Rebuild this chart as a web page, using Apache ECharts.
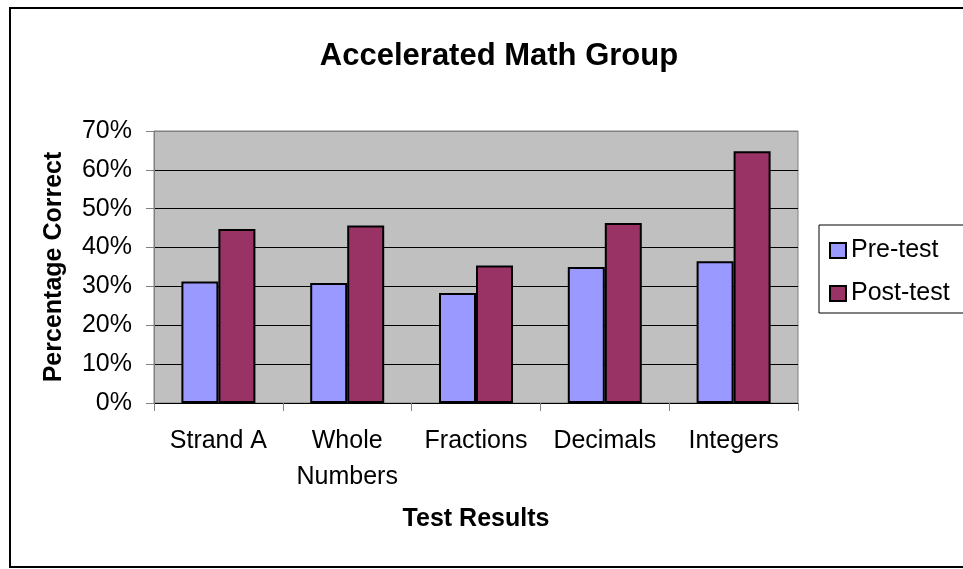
<!DOCTYPE html>
<html>
<head>
<meta charset="utf-8">
<script src="https://cdn.jsdelivr.net/npm/echarts@6/dist/echarts.min.js"></script>
<style>html,body{margin:0;padding:0;background:#fff;}#c{width:963px;height:569px;}</style>
</head>
<body>
<div id="c"></div>
<script>
var categories = ['Strand A', 'Whole\nNumbers', 'Fractions', 'Decimals', 'Integers'];
var preTest = [31.3, 30.9, 28.3, 35.0, 36.5];
var postTest = [44.8, 45.7, 35.4, 46.3, 64.8];
var yTicks = { min: 0, max: 70, interval: 10 };

var FONT = '"Liberation Sans", Arial, sans-serif';
var chart = echarts.init(document.getElementById('c'), null, { renderer: 'canvas' });
chart.setOption({
  backgroundColor: '#ffffff',
  animation: false,
  textStyle: { fontFamily: FONT },
  title: {
    text: 'Accelerated Math Group',
    left: 494,
    textAlign: 'center',
    top: 36,
    textStyle: { fontFamily: FONT, fontSize: 31, fontWeight: 'bold', color: '#000' }
  },
  graphic: [{
    type: 'rect',
    shape: { x: 10, y: 8, width: 1000, height: 559 },
    style: { fill: 'none', stroke: '#000', lineWidth: 2 },
    silent: true,
    z: 100
  }],
  legend: {
    orient: 'vertical',
    left: 819,
    top: 225,
    padding: [13, 30, 7, 10],
    itemGap: 18,
    itemWidth: 16,
    itemHeight: 15,
    icon: 'rect',
    backgroundColor: '#fff',
    borderColor: '#000',
    borderWidth: 1,
    textStyle: { fontFamily: FONT, fontSize: 25, color: '#000' },
    data: ['Pre-test', 'Post-test']
  },
  grid: {
    left: 154, right: 165, top: 131, bottom: 166,
    show: true,
    backgroundColor: '#C0C0C0',
    borderColor: '#808080',
    borderWidth: 1
  },
  xAxis: {
    type: 'category',
    data: categories,
    name: 'Test Results',
    nameLocation: 'middle',
    nameGap: 104,
    nameTextStyle: { fontFamily: FONT, fontSize: 25, fontWeight: 'bold', color: '#000' },
    axisLine: { lineStyle: { color: '#000', width: 1 } },
    axisTick: { show: true, length: 8, alignWithLabel: false, lineStyle: { color: '#808080' } },
    axisLabel: { margin: 20, fontFamily: FONT, fontSize: 25, color: '#000', lineHeight: 36, interval: 0 }
  },
  yAxis: {
    type: 'value',
    min: yTicks.min,
    max: yTicks.max,
    interval: yTicks.interval,
    name: 'Percentage Correct',
    nameLocation: 'middle',
    nameGap: 87,
    nameTextStyle: { fontFamily: FONT, fontSize: 25, fontWeight: 'bold', color: '#000' },
    axisLine: { show: true, lineStyle: { color: '#808080' } },
    axisTick: { show: true, length: 8, lineStyle: { color: '#808080' } },
    axisLabel: { margin: 22, fontFamily: FONT, fontSize: 25, color: '#000', formatter: '{value}%' },
    splitLine: { show: true, lineStyle: { color: ['#000', '#000', '#000', '#000', '#000', '#000', '#000', '#808080'], width: 1 } }
  },
  series: [
    {
      name: 'Pre-test', type: 'bar', data: preTest,
      barWidth: 37, barGap: '0%',
      itemStyle: { color: '#9999FF', borderColor: '#000', borderWidth: 2 }
    },
    {
      name: 'Post-test', type: 'bar', data: postTest,
      barWidth: 37, barGap: '0%',
      itemStyle: { color: '#993366', borderColor: '#000', borderWidth: 2 }
    }
  ]
});
</script>
</body>
</html>
